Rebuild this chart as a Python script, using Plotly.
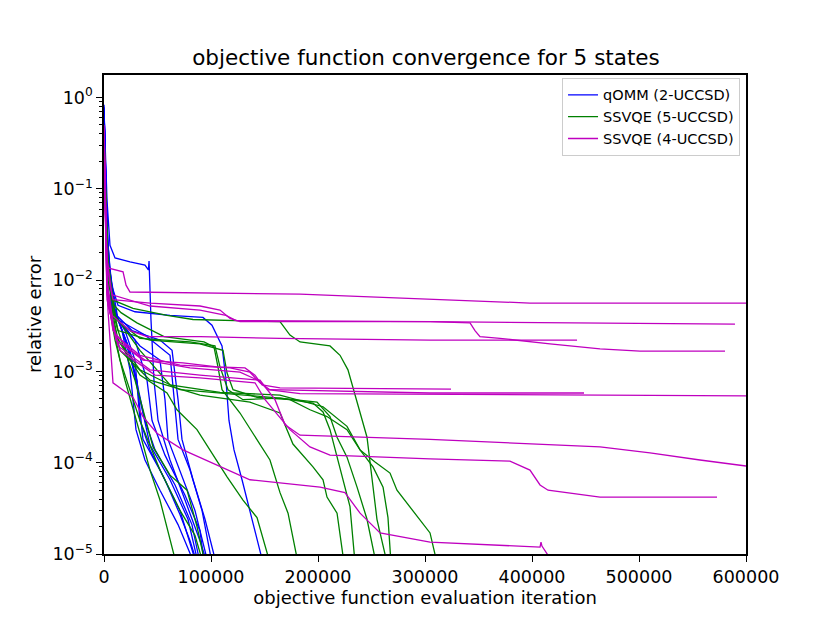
import plotly.graph_objects as go

# iteration counts and relative errors
# qOMM (2-UCCSD)
qomm_x = [
    [0, 2800, 5600, 10300, 24300, 38300, 41500, 42100, 43900, 46700, 50500, 61700, 75700, 89700, 96300],
    [0, 2800, 5600, 13100, 29000, 61700, 92500, 100900, 110300, 114000, 116800, 121500, 129000, 136400, 143900, 148600],
    [0, 2800, 7500, 19600, 30800, 36400, 52300, 71000, 86000],
    [0, 2800, 8400, 22400, 33600, 43000, 61700, 78500, 87900],
    [0, 2800, 9300, 24300, 38300, 47700, 66400, 82200, 89700],
    [0, 2800, 10300, 29000, 40200, 44900, 57000, 75700, 89700, 93500],
    [0, 3700, 13100, 33600, 52300, 57000, 59800, 71000, 85000, 97200],
    [0, 3700, 11200, 38300, 61700, 66400, 69200, 80400, 91600, 100900],
    [0, 2800, 8400, 26200, 52300, 63600, 69200, 72900, 83200, 94400, 104700],
    [0, 2800, 7500, 19600, 29000, 33600, 43000, 57000, 71000, 80400, 86900],
    [0, 2800, 6500, 16800, 24300, 29900, 38300, 52300, 69200, 84100],
]
qomm_y = [
    [0.73, 0.075, 0.024, 0.0175, 0.0158, 0.0146, 0.0129, 0.0162, 0.0037, 0.0008, 0.00029, 0.000107, 0.000039, 0.000014, 0.000008],
    [0.64, 0.045, 0.01, 0.0053, 0.0045, 0.0041, 0.0039, 0.0032, 0.0019, 0.0008, 0.00029, 0.000138, 0.000065, 0.00003, 0.000014, 0.000008],
    [0.83, 0.035, 0.0061, 0.0022, 0.0008, 0.00018, 0.000083, 0.00003, 0.000008],
    [0.73, 0.027, 0.0053, 0.0019, 0.00049, 0.000156, 0.000065, 0.000024, 0.000008],
    [0.77, 0.031, 0.0047, 0.0017, 0.00029, 0.000138, 0.000057, 0.000021, 0.000008],
    [0.69, 0.021, 0.0041, 0.0022, 0.0008, 0.00029, 0.000121, 0.000044, 0.000018, 0.000008],
    [0.64, 0.0166, 0.0037, 0.0019, 0.00133, 0.00049, 0.00018, 0.000083, 0.00003, 0.000008],
    [0.73, 0.019, 0.0038, 0.0025, 0.0015, 0.00038, 0.00018, 0.000083, 0.00003, 0.000008],
    [0.79, 0.024, 0.0045, 0.0028, 0.0022, 0.0017, 0.00049, 0.00018, 0.000065, 0.000024, 0.000008],
    [0.68, 0.021, 0.0049, 0.0028, 0.00133, 0.00029, 0.000138, 0.000065, 0.000027, 0.000014, 0.000008],
    [0.75, 0.027, 0.0061, 0.0028, 0.00104, 0.00023, 0.000107, 0.00005, 0.000021, 0.000008],
]

# SSVQE (5-UCCSD)
ssvqe5_x = [
    [0, 2800, 7500, 27100, 58900, 83200, 164500, 173800, 183200, 211200, 220600, 228000, 245800, 255100, 264500],
    [0, 3700, 9300, 15900, 30800, 56100, 93500, 102800, 106500, 110300, 127100, 143000, 155100, 164500, 172000, 181300],
    [0, 3700, 10300, 33600, 61700, 108400, 164500, 204700, 227100, 239300, 253300, 267300, 273800, 283200, 295300, 304700, 311200],
    [0, 3700, 11200, 33600, 80400, 103700, 108400, 115900, 129900, 164500, 199100, 211200, 217800, 227100, 236500, 245800, 254200],
    [0, 3700, 13100, 43000, 89700, 111200, 115000, 120600, 143000, 173800, 192500, 208400, 227100, 239300, 251400, 260800, 265400, 268200],
    [0, 2800, 10300, 33600, 71000, 127100, 164500, 195300, 204700, 211200, 217800, 223400, 229900, 234600],
    [0, 3700, 15000, 43000, 89700, 136400, 164500, 176600, 195300, 204700, 208400, 217800, 224300],
    [0, 3700, 13100, 33600, 58900, 68200, 86900, 99100, 115000, 129900, 143000, 155100],
    [0, 3700, 15000, 33600, 52300, 71000, 85000, 92500],
    [0, 3700, 10300, 19600, 33600, 43000, 52300, 59800, 67300],
    [0, 3700, 13100, 29000, 45800, 61700, 77600, 86900, 94400],
]
ssvqe5_y = [
    [0.34, 0.021, 0.0061, 0.0049, 0.0041, 0.0037, 0.0035, 0.0025, 0.0021, 0.0019, 0.0015, 0.00104, 0.00019, 0.000024, 0.000008],
    [0.27, 0.0166, 0.0053, 0.0044, 0.0034, 0.0024, 0.0021, 0.00185, 0.00112, 0.00063, 0.00035, 0.00018, 0.000107, 0.000047, 0.000028, 0.000008],
    [0.27, 0.0129, 0.0041, 0.0017, 0.00071, 0.00059, 0.00055, 0.00041, 0.00025, 0.000138, 0.000102, 0.000077, 0.00005, 0.000036, 0.000024, 0.000017, 0.000008],
    [0.34, 0.0129, 0.0037, 0.0023, 0.0021, 0.0019, 0.00112, 0.00063, 0.00049, 0.00051, 0.00046, 0.00032, 0.00019, 0.000115, 0.000054, 0.000024, 0.000008],
    [0.44, 0.01, 0.0028, 0.0022, 0.002, 0.0017, 0.00096, 0.00063, 0.00052, 0.00049, 0.00038, 0.00032, 0.00023, 0.000138, 0.00009, 0.000054, 0.000025, 0.000008],
    [0.39, 0.0078, 0.0025, 0.00104, 0.00063, 0.00055, 0.00051, 0.00045, 0.00036, 0.00023, 0.000115, 0.000065, 0.000033, 0.000008],
    [0.3, 0.0061, 0.0017, 0.0008, 0.00055, 0.00046, 0.00035, 0.00016, 0.00009, 0.000065, 0.000042, 0.000028, 0.000008],
    [0.27, 0.0078, 0.0022, 0.00091, 0.00058, 0.00038, 0.00023, 0.000138, 0.00007, 0.000039, 0.000025, 0.000008],
    [0.34, 0.0061, 0.00133, 0.00029, 0.000083, 0.00003, 0.000016, 0.000008],
    [0.27, 0.0061, 0.0022, 0.0008, 0.00021, 0.000083, 0.000039, 0.000018, 0.000008],
    [0.39, 0.0069, 0.0028, 0.0008, 0.000149, 0.000073, 0.00005, 0.00002, 0.000008],
]

# SSVQE (4-UCCSD)
ssvqe4_x = [
    [0, 1900, 3700, 17800, 20600, 24300, 183200, 304700, 398100, 600000],
    [0, 1900, 5600, 8400, 43000, 89700, 108400, 117800, 127100, 304700, 589700],
    [0, 2800, 7500, 43000, 89700, 114000, 123400, 304700, 342100, 346700, 351400, 370100, 416800, 463600, 500900, 580400],
    [0, 2800, 7500, 24300, 40200, 89700, 164500, 304700, 442100],
    [0, 2800, 8400, 24300, 36400, 73800, 105600, 131800, 141100, 147700, 164500, 324300],
    [0, 2800, 10300, 33600, 71000, 117800, 136400, 145800, 155100, 304700, 448600],
    [0, 2800, 11200, 38300, 80400, 127100, 143900, 153300, 183200, 600000],
    [0, 2800, 13100, 43000, 89700, 145800, 159800, 169200, 183200, 304700, 463600, 510300, 557000, 600000],
    [0, 3700, 15000, 47700, 89700, 141100, 150500, 173800, 192500, 211200, 304700, 379400, 398100, 407500, 415000, 463600, 572900],
    [0, 3700, 8400, 27100, 36400, 49500, 73800, 105600, 136400, 201900, 225200, 239300, 258000, 304700, 407500, 408400, 409300, 416800, 421500],
]
ssvqe4_y = [
    [0.5, 0.027, 0.0136, 0.0123, 0.0088, 0.0074, 0.007, 0.0062, 0.0056, 0.0056],
    [0.44, 0.021, 0.0088, 0.0061, 0.0056, 0.0052, 0.0047, 0.0038, 0.0035, 0.0035, 0.0033],
    [0.46, 0.0166, 0.0069, 0.0052, 0.0047, 0.0041, 0.0036, 0.0035, 0.0034, 0.0028, 0.0024, 0.0023, 0.002, 0.00176, 0.00167, 0.00167],
    [0.39, 0.01, 0.0041, 0.0028, 0.0024, 0.0024, 0.0023, 0.0022, 0.0022],
    [0.34, 0.0078, 0.0028, 0.0017, 0.00133, 0.00124, 0.00112, 0.00109, 0.00091, 0.00071, 0.00066, 0.00064],
    [0.36, 0.0088, 0.0025, 0.0015, 0.00117, 0.00109, 0.00098, 0.00075, 0.00063, 0.00058, 0.00058],
    [0.33, 0.0069, 0.0022, 0.00133, 0.00109, 0.00098, 0.0008, 0.00063, 0.00057, 0.00054],
    [0.3, 0.0061, 0.0019, 0.00104, 0.00091, 0.0008, 0.00049, 0.00026, 0.0002, 0.00018, 0.000149, 0.000128, 0.000107, 0.000092],
    [0.27, 0.0053, 0.0017, 0.00091, 0.00085, 0.00075, 0.00049, 0.00023, 0.000149, 0.000121, 0.00011, 0.000104, 0.000083, 0.000057, 0.00005, 0.000042, 0.000042],
    [0.27, 0.0047, 0.00075, 0.00052, 0.00032, 0.00021, 0.000138, 0.000094, 0.000065, 0.000054, 0.000047, 0.000028, 0.000017, 0.0000135, 0.0000119, 0.0000135, 0.0000122, 0.000009, 0.000008],
]

x_ticks = [0, 100000, 200000, 300000, 400000, 500000, 600000]
y_ticks = [1e-5, 1e-4, 1e-3, 1e-2, 1e-1, 1]
y_ticktext = ["10<sup>−5</sup>", "10<sup>−4</sup>", "10<sup>−3</sup>", "10<sup>−2</sup>", "10<sup>−1</sup>", "10<sup>0</sup>"]

groups = [
    ("qOMM (2-UCCSD)", "#0000ff", qomm_x, qomm_y),
    ("SSVQE (5-UCCSD)", "#008000", ssvqe5_x, ssvqe5_y),
    ("SSVQE (4-UCCSD)", "#bf00bf", ssvqe4_x, ssvqe4_y),
]

fig = go.Figure()

for name, color, xs, ys in groups:
    for i in range(len(xs)):
        fig.add_trace(go.Scatter(
            x=xs[i], y=ys[i], mode="lines",
            line=dict(color=color, width=1.3),
            name=name, legendgroup=name,
            showlegend=(i == 0)
        ))

# page body adds an 8px margin, so the figure is a bit smaller than the window
fig.update_layout(
    width=822, height=615,
    margin=dict(l=96, r=84, t=67, b=69),
    paper_bgcolor="white", plot_bgcolor="white",
    font=dict(family="DejaVu Sans", size=17.5, color="black"),
    title=dict(text="objective function convergence for 5 states",
               x=0.5085, xanchor="center",
               y=0.92, yanchor="middle",
               font=dict(size=21.5)),
    legend=dict(x=0.9907, xanchor="right", y=0.994, yanchor="top",
                bgcolor="white", bordercolor="#cccccc", borderwidth=1,
                font=dict(size=14.5), tracegroupgap=0,
                itemwidth=30),
    showlegend=True,
)

fig.update_xaxes(
    range=[0, 600000], tickvals=x_ticks, ticktext=[str(v) for v in x_ticks],
    ticks="outside", ticklen=6, tickwidth=1.3, tickcolor="black",
    showline=True, linecolor="black", linewidth=1.5, mirror=True,
    showgrid=False, zeroline=False,
    title=dict(text="objective function evaluation iteration", standoff=6,
               font=dict(size=18)),
)

fig.update_yaxes(
    type="log", range=[-5, 0.246],
    tickvals=y_ticks, ticktext=y_ticktext,
    ticks="outside", ticklen=6, tickwidth=1.3, tickcolor="black",
    minor=dict(ticks="outside", ticklen=3, tickwidth=1, tickcolor="black", dtick="D1", showgrid=False),
    showline=True, linecolor="black", linewidth=1.5, mirror=True,
    showgrid=False, zeroline=False,
    title=dict(text="relative error", standoff=6, font=dict(size=18)),
)

fig.write_html("out.html")
